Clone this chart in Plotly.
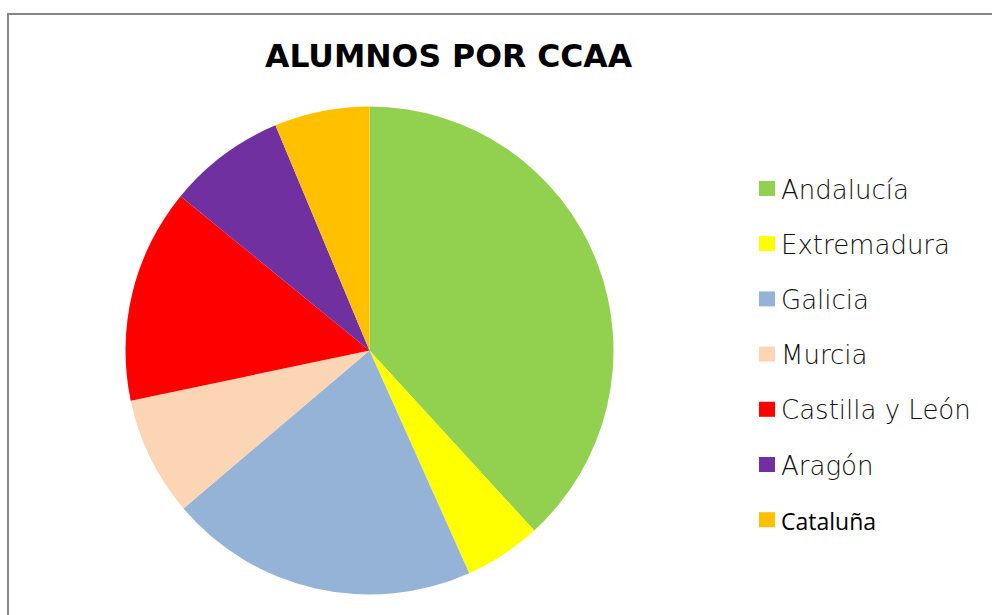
import plotly.graph_objects as go

categories = ["Andalucía", "Extremadura", "Galicia", "Murcia", "Castilla y León", "Aragón", "Cataluña"]
values = [38.2, 5.1, 20.5, 7.9, 14.2, 7.8, 6.3]
colors = ["#92D050", "#FFFF00", "#95B3D7", "#FCD5B5", "#FF0000", "#7030A0", "#FFC000"]
title_text = "ALUMNOS POR CCAA"

W, H = 992, 615

fig = go.Figure(go.Pie(
    labels=categories,
    values=values,
    marker=dict(colors=colors, line=dict(width=0)),
    sort=False,
    direction="clockwise",
    rotation=0,
    textinfo="none",
    hoverinfo="label+value+percent",
    showlegend=False,
    domain=dict(x=[125.5 / W, 613.5 / W], y=[1 - 594.5 / H, 1 - 106.5 / H]),
))

shapes = [dict(type="rect", xref="paper", yref="paper",
               x0=8 / W, x1=1.05, y0=-0.05, y1=1 - 14 / H,
               line=dict(color="#868686", width=2), fillcolor="rgba(0,0,0,0)", layer="below")]
annotations = [dict(text="<b>" + title_text + "</b>", xref="paper", yref="paper",
                    x=449 / W, y=1 - 56 / H, xanchor="center", yanchor="middle",
                    showarrow=False, font=dict(family="DejaVu Sans", size=31.5, color="#000000"))]

y0, step = 188.5, 55.2
for i, (cat, col) in enumerate(zip(categories, colors)):
    yc = y0 + step * i
    shapes.append(dict(type="rect", xref="paper", yref="paper",
                       x0=759 / W, x1=775 / W, y0=1 - (yc + 7.5) / H, y1=1 - (yc - 7.5) / H,
                       line=dict(width=0), fillcolor=col))
    if i == len(categories) - 1:
        font = dict(family="Open Sans", size=23, color="#000000", weight=500)
    else:
        font = dict(family="DejaVu Sans", size=26, color="#111111", weight=200)
    annotations.append(dict(text=cat, xref="paper", yref="paper",
                            x=779 / W, y=1 - (yc + 1) / H, xanchor="left", yanchor="middle",
                            showarrow=False, font=font))

fig.update_layout(
    width=W, height=H,
    margin=dict(l=0, r=0, t=0, b=0),
    paper_bgcolor="#FFFFFF",
    plot_bgcolor="#FFFFFF",
    shapes=shapes,
    annotations=annotations,
)

fig.write_html("out.html", config={"displayModeBar": False},
               post_script="document.body.style.margin='0';document.body.style.overflow='hidden';")
